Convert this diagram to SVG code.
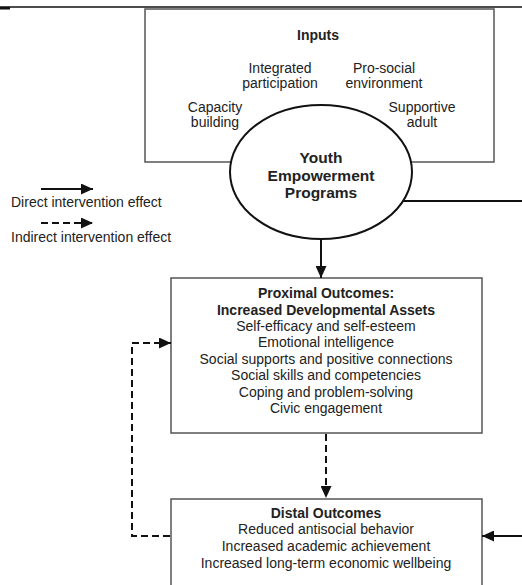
<svg xmlns="http://www.w3.org/2000/svg" width="522" height="585" viewBox="0 0 522 585">
<style>
text{font-family:"Liberation Sans",Arial,sans-serif;font-size:14px;fill:#222}
.b{font-weight:bold}
.m{text-anchor:middle}
.box{fill:#fff;stroke:#555;stroke-width:1.5}
.c{fill:none;stroke:#111;stroke-width:2}
.d{stroke-dasharray:7 4}
</style>
<defs>
<marker id="ah" viewBox="0 0 12 11" refX="12" refY="5.5" markerWidth="12" markerHeight="11" orient="auto" markerUnits="userSpaceOnUse"><path d="M0,0 L12,5.5 L0,11 z" fill="#111"/></marker>
</defs>
<rect width="522" height="585" fill="#fff"/>
<g id="header">
<line x1="0" y1="7" x2="522" y2="7" stroke="#111" stroke-width="1.5"/>
<rect x="0" y="7" width="10" height="2.5" fill="#111"/>
</g>
<g id="inputs">
<rect class="box" x="145" y="9" width="349" height="153"/>
<text class="b m" x="318" y="40">Inputs</text>
<text class="m" x="280" y="73">Integrated</text>
<text class="m" x="280" y="88">participation</text>
<text class="m" x="384" y="73">Pro-social</text>
<text class="m" x="384" y="88">environment</text>
<text class="m" x="215" y="112">Capacity</text>
<text class="m" x="215" y="127">building</text>
<text class="m" x="422" y="112">Supportive</text>
<text class="m" x="422" y="127">adult</text>
</g>
<g id="youth">
<ellipse cx="321" cy="172" rx="91" ry="67" fill="#fff" stroke="#111" stroke-width="2"/>
<text class="b m" x="321" y="163" style="font-size:15.5px">Youth</text>
<text class="b m" x="321" y="181" style="font-size:15.5px">Empowerment</text>
<text class="b m" x="321" y="198" style="font-size:15.5px">Programs</text>
</g>
<g id="proximal">
<rect class="box" x="171" y="278" width="311" height="155"/>
<text class="b m" x="326" y="298">Proximal Outcomes:</text>
<text class="b m" x="326" y="315">Increased Developmental Assets</text>
<text class="m" x="326" y="331">Self-efficacy and self-esteem</text>
<text class="m" x="326" y="347">Emotional intelligence</text>
<text class="m" x="326" y="364">Social supports and positive connections</text>
<text class="m" x="326" y="380">Social skills and competencies</text>
<text class="m" x="326" y="397">Coping and problem-solving</text>
<text class="m" x="326" y="413">Civic engagement</text>
</g>
<g id="distal">
<rect class="box" x="171" y="499" width="311" height="110"/>
<text class="b m" x="326" y="518">Distal Outcomes</text>
<text class="m" x="326" y="534">Reduced antisocial behavior</text>
<text class="m" x="326" y="551">Increased academic achievement</text>
<text class="m" x="326" y="568">Increased long-term economic wellbeing</text>
</g>
<g id="legend">
<path class="c" d="M41,189 H93" marker-end="url(#ah)"/>
<text x="11" y="207">Direct intervention effect</text>
<path class="c d" d="M41,223 H93" marker-end="url(#ah)"/>
<text x="11" y="242">Indirect intervention effect</text>
</g>
<g id="connectors">
<path class="c" d="M321,239 V278" marker-end="url(#ah)"/>
<path class="c d" d="M326,434 V498" marker-end="url(#ah)"/>
<path class="c d" d="M170,536 H132 V343 H171" marker-end="url(#ah)"/>
<path class="c" d="M403,201 H526 V536 H482" marker-end="url(#ah)"/>
</g>
</svg>
